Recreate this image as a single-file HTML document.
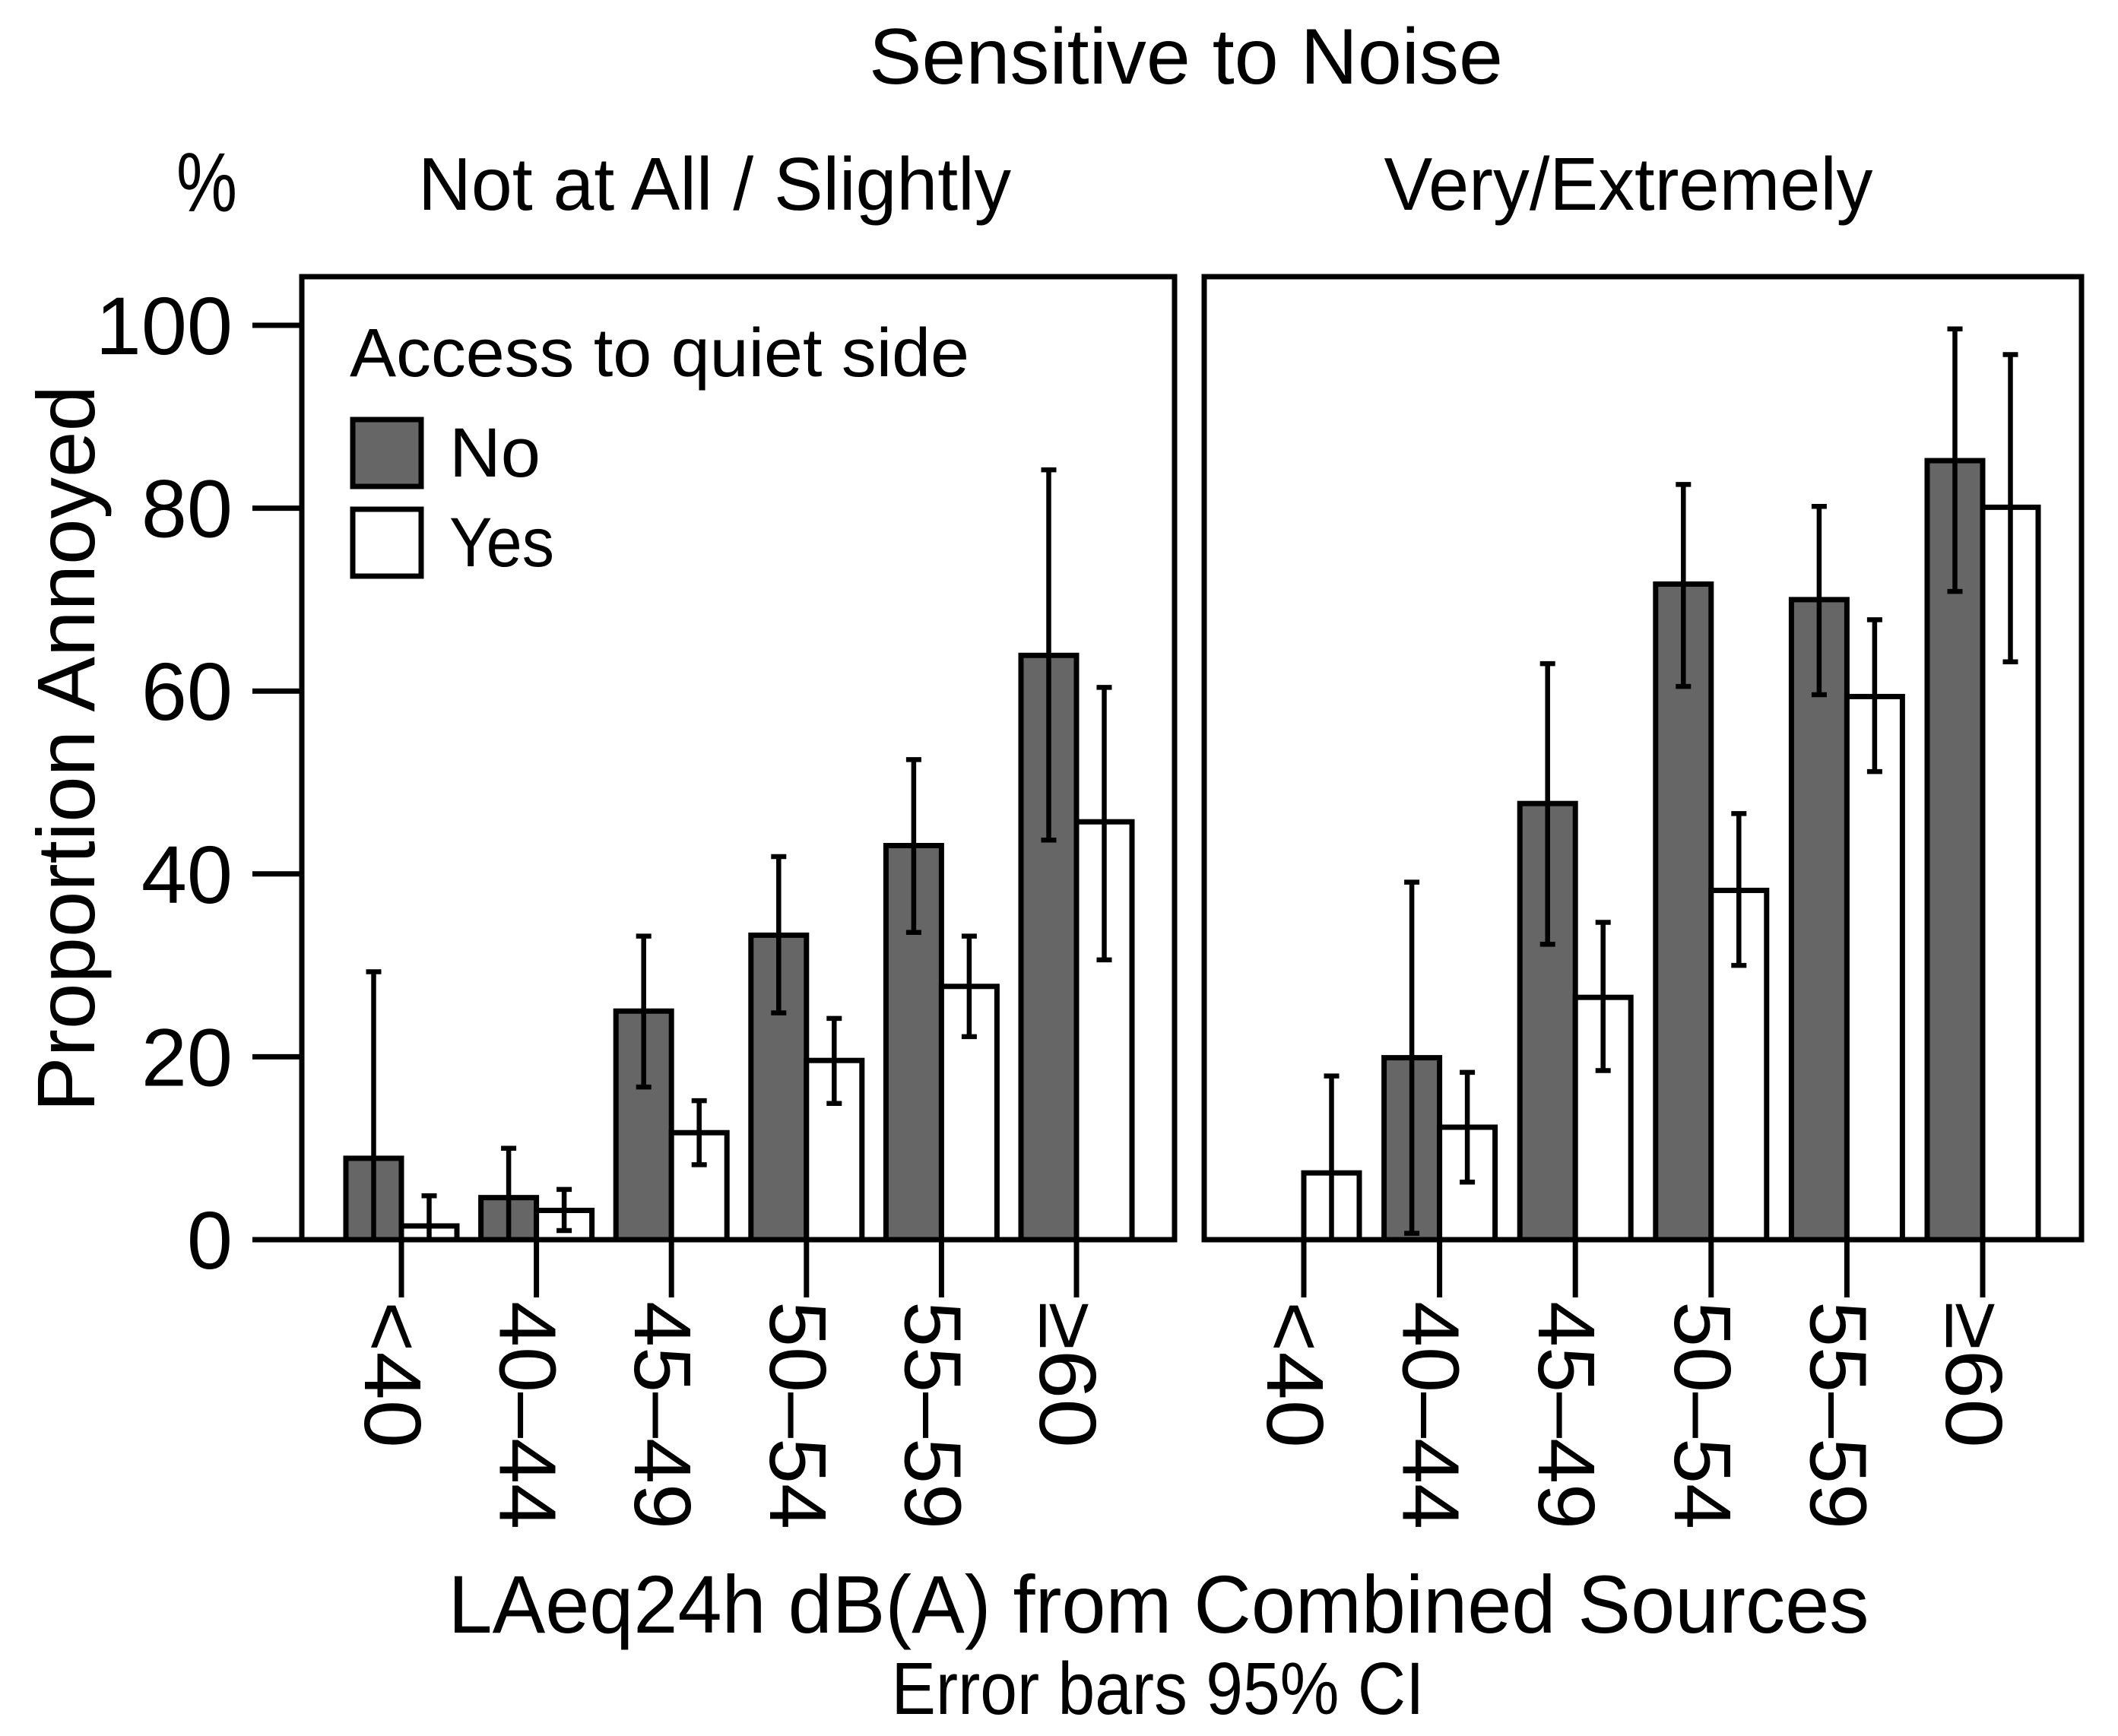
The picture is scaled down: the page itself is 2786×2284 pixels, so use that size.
<!DOCTYPE html>
<html><head><meta charset="utf-8"><style>
html,body{margin:0;padding:0;background:#fff}
svg{display:block}
text{font-family:"Liberation Sans",sans-serif;fill:#000}
</style></head><body>
<svg id="chart" xmlns="http://www.w3.org/2000/svg" width="2786" height="2284" viewBox="0 0 2786 2284">
<text x="1560" y="110" font-size="104" text-anchor="middle" textLength="834" lengthAdjust="spacingAndGlyphs">Sensitive to Noise</text>
<text x="272" y="278" font-size="110" text-anchor="middle" textLength="80" lengthAdjust="spacingAndGlyphs">%</text>
<text x="940" y="276" font-size="98" text-anchor="middle" textLength="780" lengthAdjust="spacingAndGlyphs">Not at All / Slightly</text>
<text x="2142" y="276" font-size="98" text-anchor="middle" textLength="643" lengthAdjust="spacingAndGlyphs">Very/Extremely</text>
<text transform="translate(124,985) rotate(-90)" font-size="108" text-anchor="middle" textLength="956" lengthAdjust="spacingAndGlyphs">Proportion Annoyed</text>
<text x="1524" y="2148" font-size="108" text-anchor="middle" textLength="1869" lengthAdjust="spacingAndGlyphs">LAeq24h dB(A) from Combined Sources</text>
<text x="1523" y="2255" font-size="97" text-anchor="middle" textLength="701" lengthAdjust="spacingAndGlyphs">Error bars 95% CI</text>
<g id="plot"></g>
<g>
<text x="460" y="495" font-size="90" textLength="815" lengthAdjust="spacingAndGlyphs">Access to quiet side</text>
<rect x="464" y="552" width="90" height="88" fill="#666" stroke="#000" stroke-width="7"/>
<text x="591" y="627" font-size="92" textLength="120" lengthAdjust="spacingAndGlyphs">No</text>
<rect x="464" y="670" width="90" height="88" fill="#fff" stroke="#000" stroke-width="7"/>
<text x="591" y="745" font-size="92" textLength="138" lengthAdjust="spacingAndGlyphs">Yes</text>
</g>
</svg>
<script>
const categories = ["<40","40–44","45–49","50–54","55–59","≥60"];
const yTicks = [0,20,40,60,80,100];
const p1No = [8.9,4.6,25.0,33.3,43.1,63.9];
const p1NoLo = [0,0,16.7,24.8,33.6,43.7];
const p1NoHi = [29.3,10.0,33.2,41.9,52.5,84.2];
const p1Yes = [1.5,3.2,11.7,19.6,27.7,45.7];
const p1YesLo = [0,1.0,8.2,14.9,22.2,30.6];
const p1YesHi = [4.8,5.5,15.2,24.2,33.2,60.4];
const p2No = [0,19.9,47.7,71.7,70.0,85.2];
const p2NoLo = [null,0.7,32.3,60.5,59.6,70.9];
const p2NoHi = [null,39.1,63.0,82.6,80.2,99.6];
const p2Yes = [7.3,12.3,26.5,38.2,59.4,80.1];
const p2YesLo = [0,6.3,18.5,30.0,51.2,63.2];
const p2YesHi = [17.9,18.3,34.7,46.6,67.8,96.8];

const NS="http://www.w3.org/2000/svg";
const plot=document.getElementById('plot');
const Y0=1631, PER=12.03, TOP=364;
function y(v){return Y0 - v*PER;}
function mk(tag,attrs){const e=document.createElementNS(NS,tag);for(const k in attrs)e.setAttribute(k,attrs[k]);plot.appendChild(e);return e;}

const panels=[
 {name:'not-sensitive',left:397,right:1545,x0:528,step:177.6,no:p1No,noLo:p1NoLo,noHi:p1NoHi,yes:p1Yes,yesLo:p1YesLo,yesHi:p1YesHi},
 {name:'very-sensitive',left:1584,right:2738,x0:1715,step:178.6,no:p2No,noLo:p2NoLo,noHi:p2NoHi,yes:p2Yes,yesLo:p2YesLo,yesHi:p2YesHi}
];
const BW=73;
panels.forEach(p=>{
  function xc(i){return p.x0+i*p.step;}
  categories.forEach((c,i)=>{
    const cx=xc(i);
    if(p.no[i]>0){
      const r=mk('rect',{x:cx-BW,y:y(p.no[i]),width:BW,height:p.no[i]*PER,fill:'#666',stroke:'#000','stroke-width':7});
      
      
    }
    const r2=mk('rect',{x:cx,y:y(p.yes[i]),width:BW,height:p.yes[i]*PER,fill:'#fff',stroke:'#000','stroke-width':7});
    
    
    function err(ex,lo,hi,key){
      if(lo===null)return;
      const g=document.createElementNS(NS,'g');plot.appendChild(g);
      
      
      const d='M'+ex+' '+y(lo)+'V'+y(hi)+'M'+(ex-10)+' '+y(hi)+'H'+(ex+10)+(lo>0.3?'M'+(ex-10)+' '+y(lo)+'H'+(ex+10):'');
      const pa=document.createElementNS(NS,'path');pa.setAttribute('d',d);pa.setAttribute('stroke','#000');pa.setAttribute('stroke-width',6.5);pa.setAttribute('fill','none');g.appendChild(pa);
    }
    err(cx-BW/2,p.noLo[i],p.noHi[i],'no');
    err(cx+BW/2,p.yesLo[i],p.yesHi[i],'yes');
    const t=mk('line',{x1:cx,y1:Y0,x2:cx,y2:1707,stroke:'#000','stroke-width':7});
    
    
    const lb=mk('text',{transform:'translate('+(cx-48)+',1712) rotate(90)','font-size':106,textLength:(c.length>3?300:193),lengthAdjust:'spacingAndGlyphs'});
    lb.textContent=c;
    
    
  });
  const fr=mk('rect',{x:p.left,y:TOP,width:p.right-p.left,height:Y0-TOP,fill:'none',stroke:'#000','stroke-width':7});
  
  
});
yTicks.forEach(v=>{
  const l=mk('line',{x1:332,y1:y(v),x2:397,y2:y(v),stroke:'#000','stroke-width':7});
  
  
  const t=mk('text',{x:306,y:y(v)+38,'font-size':108,'text-anchor':'end'});
  t.textContent=v;
  
  
});
</script>
</body></html>
